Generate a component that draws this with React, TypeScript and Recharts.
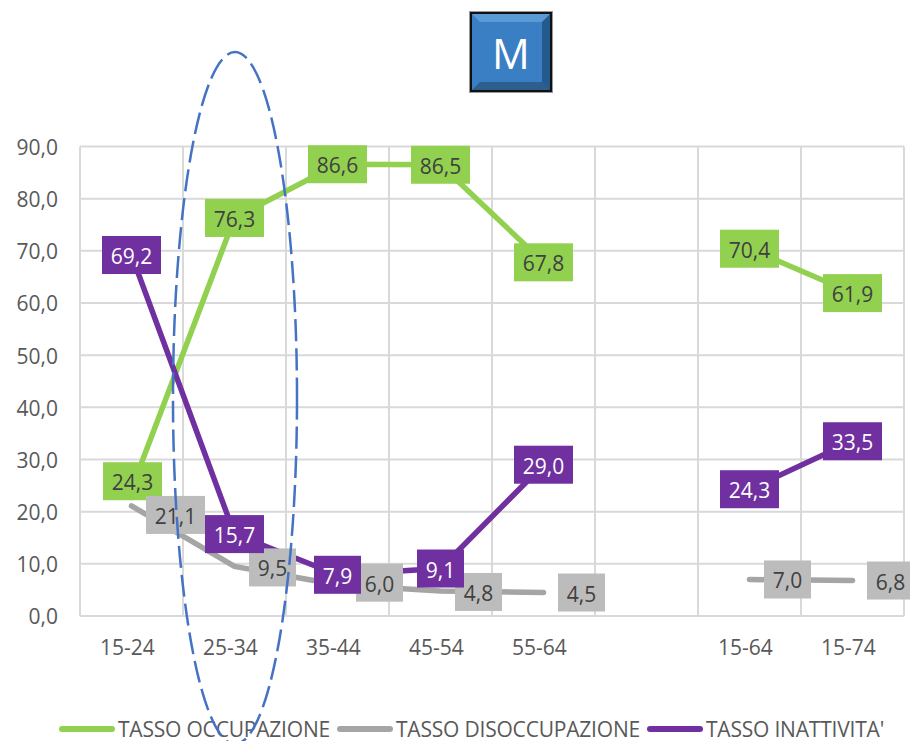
import { CartesianGrid, Legend, Line, LineChart, XAxis, YAxis } from "recharts";

const categories = ["15-24", "25-34", "35-44", "45-54", "55-64", "", "15-64", "15-74"];
const occupazione = [24.3, 76.3, 86.6, 86.5, 67.8, null, 70.4, 61.9];
const disoccupazione = [21.1, 9.5, 6.0, 4.8, 4.5, null, 7.0, 6.8];
const inattivita = [69.2, 15.7, 7.9, 9.1, 29.0, null, 24.3, 33.5];
const yTicks = [0, 10, 20, 30, 40, 50, 60, 70, 80, 90];

const data = categories.map((name, i) => ({
  name,
  occupazione: occupazione[i],
  disoccupazione: disoccupazione[i],
  inattivita: inattivita[i],
}));

const FONT = '"Open Sans", sans-serif';
const fmt = (v: number) => v.toFixed(1).replace(".", ",");

// label box offsets from the point, by category index
const greenNudge: Record<number, [number, number]> = { 0: [1, -8] };
const greyNudge: Record<number, [number, number]> = {
  0: [44, 9],
  1: [38, 1],
  2: [42, -2],
  3: [38, 1],
  4: [38, 0],
  6: [38, 0],
  7: [38, 0],
};

function makeLabel(fill: string, color: string, nudge: Record<number, [number, number]>) {
  return (props: any) => {
    const { x, y, value, index } = props;
    if (value == null || x == null || y == null) return null;
    const [dx, dy] = nudge[index] ?? [0, 0];
    const w = value >= 10 ? 59 : 47;
    const cx = x + dx;
    const cy = y + dy;
    return (
      <g key={index}>
        <rect x={cx - w / 2} y={cy - 19} width={w} height={38} fill={fill} />
        <text
          x={cx}
          y={cy + 1}
          textAnchor="middle"
          dominantBaseline="central"
          fontFamily={FONT}
          fontSize={21}
          fill={color}
        >
          {fmt(value)}
        </text>
      </g>
    );
  };
}

function LegendRow({ payload }: any) {
  return (
    <div
      style={{
        display: "flex",
        alignItems: "center",
        height: 22,
        paddingLeft: 59,
        fontFamily: FONT,
        fontSize: 21,
        lineHeight: "22px",
        letterSpacing: -0.2,
        color: "#595959",
        whiteSpace: "nowrap",
      }}
    >
      {(payload ?? []).map((p: any) => (
        <div key={p.value} style={{ display: "flex", alignItems: "center", marginRight: 7 }}>
          <div style={{ width: 56, height: 6, borderRadius: 3, background: p.color, marginRight: 3 }} />
          <span>{p.value}</span>
        </div>
      ))}
    </div>
  );
}

export default function App() {
  return (
    <div style={{ position: "absolute", left: 0, top: 0, width: 910, height: 741, overflow: "hidden", background: "#fff" }}>
      <LineChart
        width={910}
        height={741}
        data={data}
        margin={{ top: 146.5, right: 6, bottom: 53, left: 0 }}
      >
        <CartesianGrid
          stroke="#d9d9d9"
          strokeWidth={2}
          verticalCoordinatesGenerator={({ offset }: any) =>
            [...categories, ""].map((_, i) => offset.left + (offset.width / categories.length) * i)
          }
        />
        <XAxis
          dataKey="name"
          scale="band"
          axisLine={false}
          tickLine={false}
          height={50}
          interval={0}
          tick={{ fill: "#595959", fontSize: 21, fontFamily: FONT, dx: -4 }}
          tickMargin={18}
        />
        <YAxis
          width={80}
          domain={[0, 90]}
          ticks={yTicks}
          axisLine={false}
          tickLine={false}
          tickFormatter={fmt}
          tickMargin={16}
          tick={{ fill: "#595959", fontSize: 21, fontFamily: FONT, dy: 1 }}
        />
        <Line
          name="TASSO OCCUPAZIONE"
          dataKey="occupazione"
          stroke="#92d050"
          strokeWidth={5.5}
          strokeLinecap="round"
          dot={false}
          isAnimationActive={false}
          label={makeLabel("#92d050", "#404040", greenNudge)}
        />
        <Line
          name="TASSO DISOCCUPAZIONE"
          dataKey="disoccupazione"
          stroke="#a5a5a5"
          strokeWidth={5.5}
          strokeLinecap="round"
          dot={false}
          isAnimationActive={false}
          label={makeLabel("#bcbcbc", "#404040", greyNudge)}
        />
        <Line
          name="TASSO INATTIVITA'"
          dataKey="inattivita"
          stroke="#7030a0"
          strokeWidth={5.5}
          strokeLinecap="round"
          dot={false}
          isAnimationActive={false}
          label={makeLabel("#7030a0", "#ffffff", {})}
        />
        <Legend
          content={<LegendRow />}
          itemSorter={null}
          wrapperStyle={{ position: "absolute", left: 0, top: 718, bottom: "auto", width: 910, height: 22 }}
        />
      </LineChart>

      {/* hand-drawn callout around 25-34 */}
      <svg width={910} height={741} style={{ position: "absolute", left: 0, top: 0, pointerEvents: "none" }}>
        <ellipse cx={235} cy={398} rx={62} ry={346} fill="none" stroke="#4472c4" strokeWidth={2.5} strokeDasharray="22 7" />
      </svg>

      {/* M badge */}
      <div
        style={{
          position: "absolute",
          left: 470,
          top: 12,
          width: 82,
          height: 80,
          boxSizing: "border-box",
          border: "2px solid #111",
          outline: "1px solid #999",
        }}
      >
        <div
          style={{
            width: "100%",
            height: "100%",
            boxSizing: "border-box",
            background: "#3a7fc4",
            borderStyle: "solid",
            borderWidth: 8,
            borderColor: "#5a9ad6 #245a8c #2c5f8e #3a7fc4",
            color: "#fff",
            fontFamily: FONT,
            fontSize: 42,
            display: "flex",
            alignItems: "center",
            justifyContent: "center",
          }}
        >
          M
        </div>
      </div>
    </div>
  );
}
